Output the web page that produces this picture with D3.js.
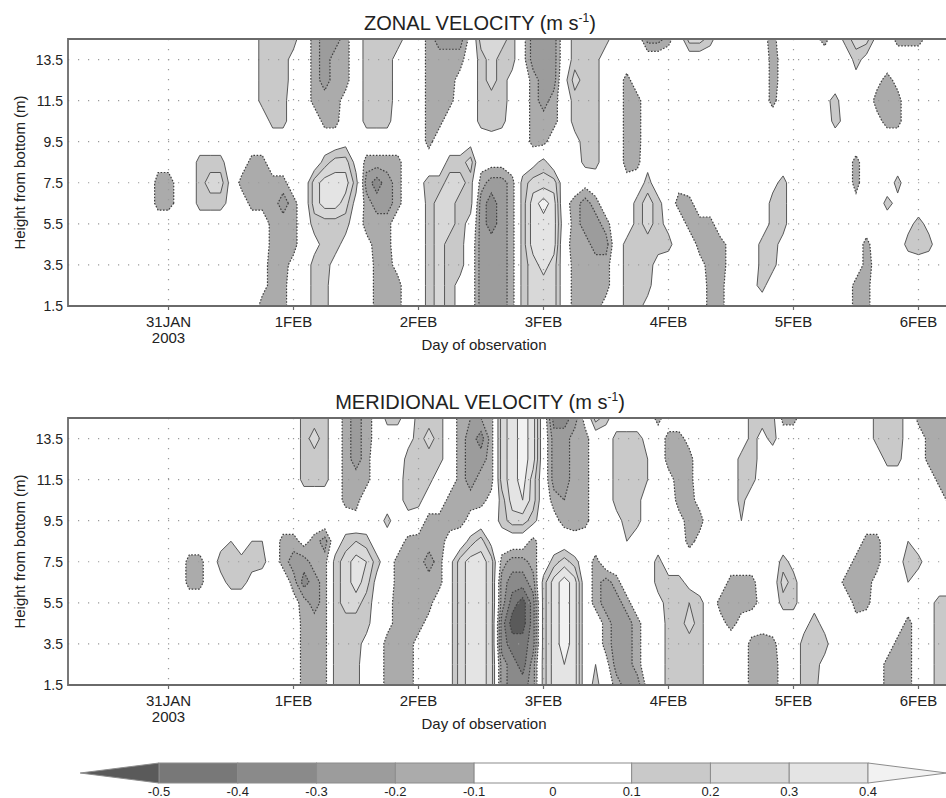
<!DOCTYPE html>
<html>
<head>
<meta charset="utf-8">
<script src="https://cdn.jsdelivr.net/npm/d3@7"></script>
<style>
  body { margin: 0; background: #fff; }
  svg { display: block; font-family: "Liberation Sans", Arial, sans-serif; }
</style>
</head>
<body>
<svg id="chart" width="946" height="798"></svg>
<script>
// Value grid: one column every 2 hours from 30 Jan 2003 00:00 UTC, one row per metre (top row first).
// Codes: '.' = 0, digit n = +n/20 m/s, letter = -(rank)/20 m/s (a = -0.05 ... k = -0.55).
const gridStart = Date.UTC(2003, 0, 30);
const gridStepHours = 2;
const rowHeights = [14.5, 13.5, 12.5, 11.5, 10.5, 9.5, 8.5, 7.5, 6.5, 5.5, 4.5, 3.5, 2.5, 1.5];

const zonalRows = [
  '.......... .......... .3333.ceec .33331.cee ea5553aeee .3333...ee c.553....a c...ac.355 1.ccca....',
  '.......... .......... .3331.cecc .3331..ccc c.3533aeee .333...... .......... ca......31 ..........',
  '.......... .......... .3331.cecc .3331..ccc a.3531.cee 1533..c... .......... ca......1. aca.......',
  '.......... .......... .333..ccca .3331..ccc ..3331.cec .333..cc.. .......... c....13... ccc.......',
  '.......... .......... ..33...cc. .333...cc. ..333..ccc .333..cc.. .......... ......31.. acc.......',
  '.......... .......... .........1 .......c.. .1.1...cc. .133..cc.. .......... .......... ..........',
  '.......... .aa..333.. cc.....355 1cccc....3 35aaa..13. ..33..cc1. .......... ........c. ..........',
  '.......... .cca.3551c cccc..5777 3egec.1335 53ceec3555 ..a...a.3. .a........ 13......c. ..3.......',
  '.......... .cca.3331. cccec.5775 1ceec..355 33egec3797 acec...353 .cc....... 33......a. .31.......',
  '.......... .......... ..ccc.3333 .ccc...355 31egec3777 .ceec..353 1.ccc..... 33........ ...131....',
  '.......... .......... ..ccc.1331 .acc...353 3.eeec3777 accee.3333 3..ccca..3 31.......c ...333....',
  '.......... .......... .acca.331. ..cca..353 3.eeec3575 .cccc.3331 ...acca..3 3........c a...1.....',
  '.......... .......... .acc..33.. ..ccc..353 1.eeec3555 .cccc.333. ....cc..13 ........cc ..........',
  '.......... .......... .ccc..33.. ..ccc..353 1.eeec3555 .ccca.331. ....cc.... ........cc ..........'
];

const meridionalRows = [
  '.......... .......... .....333.c eca33.333. cddc5797.g gea53....c ........33 3cc....... 3331cccc..',
  '.......... .......... .....353.c eca..1353. cegc5797.e ecc..3331. cca.....31 3......... 3331.ccc..',
  '.......... .......... .....333.c ec...3333. ceec5797.e ecc..3332. ccc....331 .......... .33..ccc..',
  '.......... .......... .....333.c cc..1333.. cecc5795.e ecc..3332. acc....33. .......... ......cc..',
  '.......... .......... .........c c...133..c ccca3785.c dcc..333.. .cca...3.. .......... .......c..',
  '.......... .......... .......... a..3.1.ccc ca..3553.a ccc..133.. .acc...2.. .......... ..........',
  '.......... .......12. 22.ccace.3 43...cccca .351...c.. .a....2... ..ca...... .........c c..2......',
  '.......... ....cc.333 33.ceecc35 763.cccec1 5775ceec.3 53.c.....3 .......... .31.....cc c.133.....',
  '.......... ....cc.133 1...cgec35 751.ccccc1 5775egge37 97.cec...3 331...ccc. .53....ccc a..2......',
  '.......... .......... ....acec35 531acccc.1 5775eikg37 97.ceec..1 3343.cccca .33.1...cc .....133..',
  '.......... .......... .....ccc33 33.accca.1 5775gkkg37 97..ceec.. 3353.aca.a ...131..a. ...c.133..',
  '.......... .......... .....ccc33 31.ccca..1 5775giig37 97..ceec.. 3333....cc c..333.... ..cc.133..',
  '.......... .......... .....ccc33 3..ccca..1 5775egie37 87.2aeec.. 3333....cc ca.331.... .ccc.133..',
  '.......... .......... .....ccc33 3..ccca..1 5775egge37 77.3.ceea. 3333....cc ca.33..... .ccc.133..'
];

const tickDays = ['2003-01-31', '2003-02-01', '2003-02-02', '2003-02-03', '2003-02-04', '2003-02-05', '2003-02-06'];
const tickLabels = ['31JAN', '1FEB', '2FEB', '3FEB', '4FEB', '5FEB', '6FEB'];
const heightTicks = [1.5, 3.5, 5.5, 7.5, 9.5, 11.5, 13.5];
const positiveLevels = [0.1, 0.2, 0.3, 0.4];
const negativeLevels = [0.1, 0.2, 0.3, 0.4, 0.5];
const positiveFills = ['#c9c9c9', '#d8d8d8', '#e4e4e4', '#f2f2f2'];
const negativeFills = ['#ababab', '#9c9c9c', '#8a8a8a', '#787878', '#5a5a5a'];
const barTicks = [-0.5, -0.4, -0.3, -0.2, -0.1, 0, 0.1, 0.2, 0.3, 0.4];

function decode(ch) {
  if (ch === '.') return 0;
  if (ch >= '0' && ch <= '9') return +ch / 20;
  return -(ch.charCodeAt(0) - 96) / 20;
}

const svg = d3.select('#chart');
const panelHeight = 267;

// 125 px per day, plot starts 30 Jan 04:42 and runs past the right edge of the page
const x = d3.scaleUtc()
  .domain([new Date(Date.UTC(2003, 0, 30, 4, 42)), new Date(Date.UTC(2003, 1, 6, 15, 39))])
  .range([68, 1000]);

const tickDates = tickDays.map(d => new Date(d + 'T00:00:00Z'));

function drawPanel(rows, title, top, idx) {
  const bottom = top + panelHeight;
  const y = d3.scaleLinear().domain([1.5, 14.5]).range([bottom, top]);

  const values = rows.flatMap(r => Array.from(r.replace(/ /g, ''), decode));
  const ny = rows.length;
  const nx = values.length / ny;

  const rowScale = d3.scaleLinear().domain([0, ny - 1]).range([rowHeights[0], rowHeights[ny - 1]]);
  const colTime = i => new Date(gridStart + i * gridStepHours * 3600e3);

  // grid coordinates -> screen (cell centres sit at index + 0.5)
  const toScreen = d3.geoTransform({
    point(gx, gy) {
      this.stream.point(x(colTime(gx - 0.5)), y(rowScale(gy - 0.5)));
    }
  });
  const path = d3.geoPath(toScreen);

  const pos = d3.contours().size([nx, ny]).thresholds(positiveLevels)(values);
  const neg = d3.contours().size([nx, ny]).thresholds(negativeLevels)(values.map(v => -v));

  const clipId = 'clip' + idx;
  svg.append('clipPath').attr('id', clipId)
    .append('rect')
    .attr('x', x.range()[0]).attr('y', top)
    .attr('width', x.range()[1] - x.range()[0]).attr('height', panelHeight);

  const plot = svg.append('g').attr('clip-path', `url(#${clipId})`);

  plot.selectAll('path.pfill').data(pos).join('path')
    .attr('class', 'pfill')
    .attr('d', path)
    .attr('fill', (d, i) => positiveFills[i]);

  plot.selectAll('path.nfill').data(neg).join('path')
    .attr('class', 'nfill')
    .attr('d', path)
    .attr('fill', (d, i) => negativeFills[i]);

  // dotted grid
  plot.selectAll('line.hgrid').data(heightTicks.slice(1)).join('line')
    .attr('class', 'hgrid')
    .attr('x1', x.range()[0]).attr('x2', x.range()[1])
    .attr('y1', d => y(d)).attr('y2', d => y(d))
    .attr('stroke', '#9a9a9a').attr('stroke-width', 1.2)
    .attr('stroke-dasharray', '1.2,8.8');

  plot.selectAll('line.vgrid').data(tickDates).join('line')
    .attr('class', 'vgrid')
    .attr('x1', d => x(d)).attr('x2', d => x(d))
    .attr('y1', top).attr('y2', bottom)
    .attr('stroke', '#9a9a9a').attr('stroke-width', 1.2)
    .attr('stroke-dasharray', '1.2,8.8');

  plot.selectAll('path.pline').data(pos).join('path')
    .attr('class', 'pline')
    .attr('d', path)
    .attr('fill', 'none')
    .attr('stroke', '#585858')
    .attr('stroke-width', 1);

  plot.selectAll('path.nline').data(neg).join('path')
    .attr('class', 'nline')
    .attr('d', path)
    .attr('fill', 'none')
    .attr('stroke', '#404040')
    .attr('stroke-width', 1.2)
    .attr('stroke-dasharray', '1.6,1.6');

  // frame (right side is cut off by the page)
  svg.append('path')
    .attr('d', d3.line()([[x.range()[1], top], [x.range()[0], top], [x.range()[0], bottom], [x.range()[1], bottom]]))
    .attr('fill', 'none')
    .attr('stroke', '#6a6a6a')
    .attr('stroke-width', 1.8);

  // y axis labels
  svg.append('g').selectAll('text').data(heightTicks).join('text')
    .attr('x', x.range()[0] - 5)
    .attr('y', d => y(d) + 5)
    .attr('text-anchor', 'end')
    .attr('font-size', 14)
    .attr('fill', '#222')
    .text(d => d.toFixed(1));

  // x ticks and labels
  const xa = svg.append('g');
  xa.selectAll('line').data(tickDates).join('line')
    .attr('x1', d => x(d)).attr('x2', d => x(d))
    .attr('y1', bottom).attr('y2', bottom + 4)
    .attr('stroke', '#6a6a6a').attr('stroke-width', 1.2);
  xa.selectAll('text').data(tickDates).join('text')
    .attr('x', d => x(d))
    .attr('y', bottom + 21)
    .attr('text-anchor', 'middle')
    .attr('font-size', 15)
    .attr('fill', '#222')
    .text((d, i) => tickLabels[i]);
  xa.append('text')
    .attr('x', x(tickDates[0]))
    .attr('y', bottom + 37)
    .attr('text-anchor', 'middle')
    .attr('font-size', 15)
    .attr('fill', '#222')
    .text('2003');

  svg.append('text')
    .attr('x', 484)
    .attr('y', bottom + 44)
    .attr('text-anchor', 'middle')
    .attr('font-size', 15)
    .attr('fill', '#222')
    .text('Day of observation');

  svg.append('text')
    .attr('transform', `translate(25,${(top + bottom) / 2}) rotate(-90)`)
    .attr('text-anchor', 'middle')
    .attr('font-size', 15)
    .attr('fill', '#222')
    .text('Height from bottom (m)');

  const t = svg.append('text')
    .attr('x', 480)
    .attr('y', top - 9)
    .attr('text-anchor', 'middle')
    .attr('font-size', 20)
    .attr('fill', '#222');
  t.append('tspan').text(title + ' (m s');
  t.append('tspan').attr('font-size', 12).attr('dy', -8).text('-1');
  t.append('tspan').attr('dy', 8).text(')');
}

drawPanel(zonalRows, 'ZONAL VELOCITY', 39, 0);
drawPanel(meridionalRows, 'MERIDIONAL VELOCITY', 418, 1);

// colour bar
const bar = d3.scaleLinear().domain([-0.5, 0.4]).range([159, 868]);
const barTop = 763, barH = 20, barMid = barTop + barH / 2;
const cb = svg.append('g');
const step = 0.1;

const bins = [
  { lo: -0.5, hi: -0.4, fill: negativeFills[3] },
  { lo: -0.4, hi: -0.3, fill: negativeFills[2] },
  { lo: -0.3, hi: -0.2, fill: negativeFills[1] },
  { lo: -0.2, hi: -0.1, fill: negativeFills[0] },
  { lo: -0.1, hi: 0.1, fill: '#ffffff' },
  { lo: 0.1, hi: 0.2, fill: positiveFills[0] },
  { lo: 0.2, hi: 0.3, fill: positiveFills[1] },
  { lo: 0.3, hi: 0.4, fill: positiveFills[2] }
];

cb.selectAll('rect').data(bins).join('rect')
  .attr('x', d => bar(d.lo))
  .attr('y', barTop)
  .attr('width', d => bar(d.hi) - bar(d.lo))
  .attr('height', barH)
  .attr('fill', d => d.fill)
  .attr('stroke', '#8c8c8c')
  .attr('stroke-width', 1);

cb.append('path')
  .attr('d', d3.line()([[bar(-0.5 - step), barMid], [bar(-0.5), barTop], [bar(-0.5), barTop + barH]]) + 'Z')
  .attr('fill', negativeFills[4]).attr('stroke', '#8c8c8c');
cb.append('path')
  .attr('d', d3.line()([[bar(0.4 + step), barMid], [bar(0.4), barTop], [bar(0.4), barTop + barH]]) + 'Z')
  .attr('fill', positiveFills[3]).attr('stroke', '#8c8c8c');

cb.selectAll('text').data(barTicks).join('text')
  .attr('x', d => bar(d))
  .attr('y', barTop + barH + 13)
  .attr('text-anchor', 'middle')
  .attr('font-size', 13)
  .attr('fill', '#222')
  .text(d => d === 0 ? '0' : d.toFixed(1));
</script>
</body>
</html>
